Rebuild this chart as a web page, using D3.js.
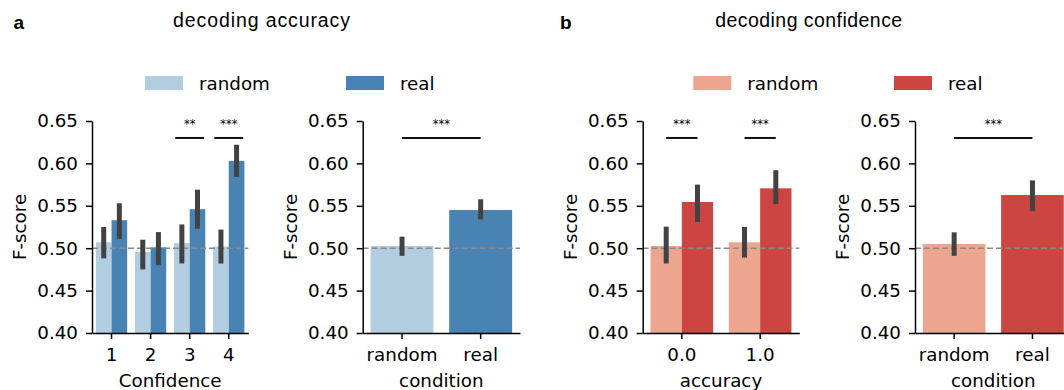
<!DOCTYPE html>
<html>
<head>
<meta charset="utf-8">
<script src="https://cdn.jsdelivr.net/npm/d3@7"></script>
<style>
  body { margin: 0; background: #fff; }
  svg { display: block; }
  text { font-family: 'DejaVu Sans', sans-serif; fill: #000; }
</style>
</head>
<body>
<svg id="chart" width="1064" height="390"></svg>
<script>
// ---- data ----
const confLevels = ['1', '2', '3', '4'];
const accRandomMean = [0.507, 0.4955, 0.506, 0.502];
const accRandomCI = [[0.488, 0.525], [0.475, 0.510], [0.482, 0.528], [0.482, 0.522]];
const accRealMean = [0.533, 0.501, 0.546, 0.603];
const accRealCI = [[0.511, 0.553], [0.480, 0.519], [0.523, 0.569], [0.584, 0.622]];
const accSig = [null, null, '**', '***'];

const conditions = ['random', 'real'];
const accCondMean = [0.5026, 0.545];
const accCondCI = [[0.491, 0.5136], [0.534, 0.5577]];
const accCondSig = '***';

const accLevels = ['0.0', '1.0'];
const confRandomMean = [0.5026, 0.507];
const confRandomCI = [[0.482, 0.5254], [0.489, 0.525]];
const confRealMean = [0.5545, 0.5706];
const confRealCI = [[0.531, 0.575], [0.552, 0.592]];
const confSig = ['***', '***'];

const confCondMean = [0.505, 0.5627];
const confCondCI = [[0.491, 0.5187], [0.544, 0.580]];
const confCondSig = '***';

const yTicks = [0.40, 0.45, 0.50, 0.55, 0.60, 0.65];
const CHANCE = 0.5;
const SIG_LEVEL = 0.63;

// ---- styling ----
const BLUE_LIGHT = '#b3cde0', BLUE_DARK = '#4883b3';
const RED_LIGHT = '#eca690', RED_DARK = '#cc4540';
const ERR_COLOR = '#424242';
const FONT = 18.3;

const svg = d3.select('#chart');
const y = d3.scaleLinear().domain([0.40, 0.65]).range([333, 121]);

function drawPanel(p) {
  const g = svg.append('g');
  const x = d3.scaleBand().domain(p.cats).range([p.x0, p.x1]).padding(0);
  const step = x.step();
  const n = p.series.length;
  const w = 0.8 * step / n;

  // bars
  p.series.forEach(function (s, k) {
    g.selectAll(null)
      .data(p.cats)
      .enter().append('rect')
      .attr('x', function (c) { return x(c) + 0.1 * step + k * w; })
      .attr('y', function (c, i) { return y(s.mean[i]); })
      .attr('width', w)
      .attr('height', function (c, i) { return y(0.40) - y(s.mean[i]); })
      .attr('fill', function (c, i) { return s.colors[i]; });
  });

  // chance line
  g.append('line')
    .attr('x1', p.x0).attr('x2', p.x1)
    .attr('y1', y(CHANCE)).attr('y2', y(CHANCE))
    .attr('stroke', '#8a8a8a')
    .attr('stroke-width', 1.6)
    .attr('stroke-dasharray', '6,3');

  // error bars
  p.series.forEach(function (s, k) {
    g.selectAll(null)
      .data(p.cats)
      .enter().append('line')
      .attr('x1', function (c) { return x(c) + 0.1 * step + (k + 0.5) * w; })
      .attr('x2', function (c) { return x(c) + 0.1 * step + (k + 0.5) * w; })
      .attr('y1', function (c, i) { return y(s.ci[i][0]); })
      .attr('y2', function (c, i) { return y(s.ci[i][1]); })
      .attr('stroke', ERR_COLOR)
      .attr('stroke-width', 5);
  });

  // axes
  const yAxis = d3.axisLeft(y).tickValues(yTicks).tickFormat(d3.format('.2f'))
    .tickSize(6).tickSizeOuter(0).tickPadding(8);
  const xAxis = d3.axisBottom(x).tickSize(6).tickSizeOuter(0).tickPadding(9);

  const ya = g.append('g')
    .attr('transform', 'translate(' + p.x0 + ',0)')
    .call(yAxis);
  const xa = g.append('g')
    .attr('transform', 'translate(0,' + y(0.40) + ')')
    .call(xAxis);
  [ya, xa].forEach(function (a) {
    a.attr('font-size', FONT).attr('font-family', "'DejaVu Sans', sans-serif");
    a.selectAll('path, line').attr('stroke', '#000').attr('stroke-width', 1.5);
    a.selectAll('text').attr('fill', '#000');
  });

  // axis labels
  g.append('text')
    .attr('transform', 'translate(' + (p.x0 - 66) + ',' + ((y(0.40) + y(0.65)) / 2) + ') rotate(-90)')
    .attr('text-anchor', 'middle')
    .style('font-size', FONT + 'px')
    .text('F-score');
  g.append('text')
    .attr('x', (p.x0 + p.x1) / 2)
    .attr('y', 386.5)
    .attr('text-anchor', 'middle')
    .style('font-size', FONT + 'px')
    .text(p.xLabel);

  // significance markers
  p.sig.forEach(function (sg) {
    const xa1 = sg.from, xa2 = sg.to;
    g.append('line')
      .attr('x1', xa1).attr('x2', xa2)
      .attr('y1', y(SIG_LEVEL)).attr('y2', y(SIG_LEVEL))
      .attr('stroke', '#111')
      .attr('stroke-width', 2);
    g.append('text')
      .attr('x', (xa1 + xa2) / 2)
      .attr('y', y(SIG_LEVEL) - 10)
      .attr('text-anchor', 'middle')
      .style('font-size', '11.5px')
      .text(sg.label);
  });

  return x;
}

function hueSig(x, cats, labels, frac) {
  const out = [];
  cats.forEach(function (c, i) {
    if (!labels[i]) return;
    const mid = x(c) + x.step() / 2;
    out.push({from: mid - frac * x.step(), to: mid + frac * x.step(), label: labels[i]});
  });
  return out;
}

function condSig(x, label) {
  const s = x.step() / 2;
  return [{from: x(conditions[0]) + s, to: x(conditions[1]) + s, label: label}];
}

function panelSpec(x0, x1, cats, series, xLabel) {
  return {x0: x0, x1: x1, cats: cats, series: series, xLabel: xLabel, sig: []};
}

// panel a1
const pa1 = panelSpec(92, 248.3, confLevels, [
  {mean: accRandomMean, ci: accRandomCI, colors: confLevels.map(function () { return BLUE_LIGHT; })},
  {mean: accRealMean, ci: accRealCI, colors: confLevels.map(function () { return BLUE_DARK; })}
], 'Confidence');
pa1.sig = hueSig(d3.scaleBand().domain(confLevels).range([pa1.x0, pa1.x1]), confLevels, accSig, 0.37);
drawPanel(pa1);

// panel a2
const pa2 = panelSpec(362.7, 520, conditions, [
  {mean: accCondMean, ci: accCondCI, colors: [BLUE_LIGHT, BLUE_DARK]}
], 'condition');
pa2.sig = condSig(d3.scaleBand().domain(conditions).range([pa2.x0, pa2.x1]), accCondSig);
drawPanel(pa2);

// panel b1
const pb1 = panelSpec(642.7, 799.3, accLevels, [
  {mean: confRandomMean, ci: confRandomCI, colors: accLevels.map(function () { return RED_LIGHT; })},
  {mean: confRealMean, ci: confRealCI, colors: accLevels.map(function () { return RED_DARK; })}
], 'accuracy');
pb1.sig = hueSig(d3.scaleBand().domain(accLevels).range([pb1.x0, pb1.x1]), accLevels, confSig, 0.2);
drawPanel(pb1);

// panel b2
const pb2 = panelSpec(915, 1071.6, conditions, [
  {mean: confCondMean, ci: confCondCI, colors: [RED_LIGHT, RED_DARK]}
], 'condition');
pb2.sig = condSig(d3.scaleBand().domain(conditions).range([pb2.x0, pb2.x1]), confCondSig);
drawPanel(pb2);

// ---- titles, panel letters, legends ----
function title(txt, cx, len) {
  svg.append('text')
    .attr('x', cx).attr('y', 27)
    .attr('text-anchor', 'middle')
    .attr('textLength', len)
    .attr('lengthAdjust', 'spacing')
    .style('font-family', "'Liberation Sans', Arial, sans-serif")
    .style('font-size', '19.5px')
    .text(txt);
}
title('decoding accuracy', 261.5, 177);
title('decoding confidence', 808.7, 187);

[['a', 13.5], ['b', 560]].forEach(function (d) {
  svg.append('text')
    .attr('x', d[1]).attr('y', 28.5)
    .style('font-family', "'Liberation Sans', Arial, sans-serif")
    .style('font-weight', 'bold')
    .style('font-size', '19px')
    .text(d[0]);
});

function legend(items) {
  items.forEach(function (it) {
    svg.append('rect')
      .attr('x', it.x).attr('y', 76)
      .attr('width', 38).attr('height', 14)
      .attr('fill', it.color);
    svg.append('text')
      .attr('x', it.x + 54).attr('y', 90)
      .style('font-size', FONT + 'px')
      .text(it.label);
  });
}
legend([{x: 145, color: BLUE_LIGHT, label: 'random'}, {x: 346, color: BLUE_DARK, label: 'real'}]);
legend([{x: 693.3, color: RED_LIGHT, label: 'random'}, {x: 894, color: RED_DARK, label: 'real'}]);
</script>
</body>
</html>
